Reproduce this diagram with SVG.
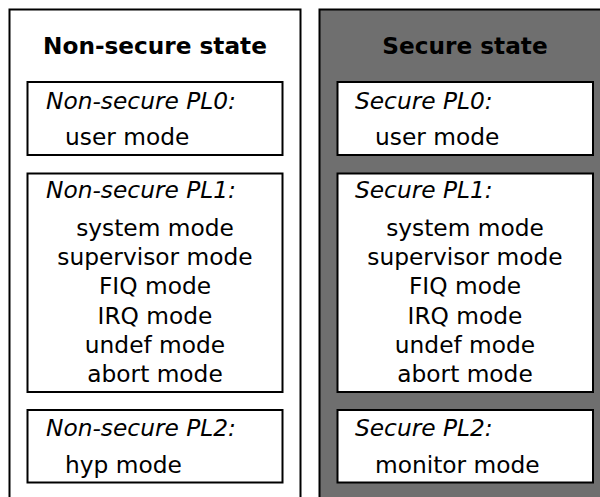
<svg xmlns="http://www.w3.org/2000/svg" width="600" height="497" viewBox="0 0 600 497">
<style>
text{font-family:"DejaVu Sans",sans-serif;font-size:23.3px;fill:#000}
.title{font-weight:bold;font-size:23.2px;text-anchor:middle}
.lbl{font-style:italic}
.c{text-anchor:middle}
.box{fill:#fff;stroke:#000;stroke-width:2}
.panel{stroke:#000;stroke-width:2}
</style>
<rect width="600" height="497" fill="#fff"/>
<g id="nonsecure">
<rect class="panel" x="9.5" y="9.5" width="291" height="500" fill="#fff"/>
<text class="title" x="155" y="54">Non-secure state</text>
</g>
<g id="secure">
<rect class="panel" x="319.5" y="9.5" width="300" height="500" fill="#6f6f6f"/>
<text class="title" x="465" y="54">Secure state</text>
</g>
<g id="ns-pl0">
<rect class="box" x="27.5" y="82" width="255" height="73"/>
<text class="lbl" x="46" y="109">Non-secure PL0:</text>
<text x="65" y="145">user mode</text>
</g>
<g id="ns-pl1">
<rect class="box" x="27.5" y="173.5" width="255" height="218.5"/>
<text class="lbl" x="46" y="198">Non-secure PL1:</text>
<text class="c" x="155" y="236">system mode</text>
<text class="c" x="155" y="265">supervisor mode</text>
<text class="c" x="155" y="294.2">FIQ mode</text>
<text class="c" x="155" y="323.5">IRQ mode</text>
<text class="c" x="155" y="352.6">undef mode</text>
<text class="c" x="155" y="381.7">abort mode</text>
</g>
<g id="ns-pl2">
<rect class="box" x="27.5" y="410" width="255" height="72.5"/>
<text class="lbl" x="46" y="436">Non-secure PL2:</text>
<text x="65" y="472.5">hyp mode</text>
</g>
<g id="s-pl0">
<rect class="box" x="337.5" y="82" width="255.5" height="73"/>
<text class="lbl" x="355" y="109">Secure PL0:</text>
<text x="375" y="145">user mode</text>
</g>
<g id="s-pl1">
<rect class="box" x="337.5" y="173.5" width="255.5" height="218.5"/>
<text class="lbl" x="355" y="198">Secure PL1:</text>
<text class="c" x="465" y="236">system mode</text>
<text class="c" x="465" y="265">supervisor mode</text>
<text class="c" x="465" y="294.2">FIQ mode</text>
<text class="c" x="465" y="323.5">IRQ mode</text>
<text class="c" x="465" y="352.6">undef mode</text>
<text class="c" x="465" y="381.7">abort mode</text>
</g>
<g id="s-pl2">
<rect class="box" x="337.5" y="410" width="255.5" height="72.5"/>
<text class="lbl" x="355" y="436">Secure PL2:</text>
<text x="375" y="472.5">monitor mode</text>
</g>
<g id="connectors"></g>
</svg>
